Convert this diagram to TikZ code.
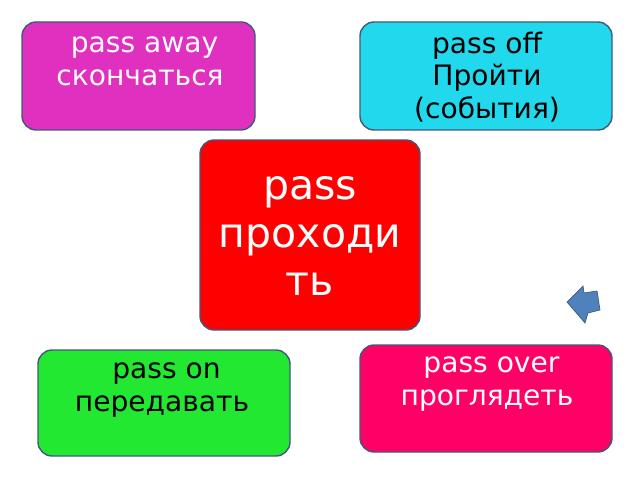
\documentclass[tikz,border=0pt]{standalone}
\usepackage{fontspec}
\setmainfont{DejaVu Sans}
\definecolor{edge}{HTML}{41597A}
\definecolor{cmag}{HTML}{E030C0}
\definecolor{ccyan}{HTML}{22D8EC}
\definecolor{cgreen}{HTML}{22E832}
\definecolor{cpink}{HTML}{FF0066}
\definecolor{cblue}{HTML}{4F81BD}
\begin{document}
\begin{tikzpicture}[x=0.03cm,y=-0.03cm]
\tikzset{card/.style={draw=edge,line width=1.2pt,rounded corners=12pt}}
\tikzstyle{every node}+=[inner sep=0pt,align=center,font=\fontsize{24}{28}\selectfont]
\useasboundingbox (0,0) rectangle (640,480);
\draw [card,fill=cmag] (22,22) rectangle (255,130);
\node [text=white] (away) at (140,61) {\ pass away\\скончаться};
\draw [card,fill=ccyan] (360,22) rectangle (612,130);
\node (off) at (487,77) {pass off\\Пройти\\(события)};
\draw [card,fill=red] (200,140) rectangle (420,330);
\node [text=white,font=\fontsize{35}{41}\selectfont] (pass) at (310,236) {pass\\ проходи\\ть};
\draw [card,fill=cgreen] (38,350) rectangle (290,456);
\node (on) at (162,390) {\ pass on\\передавать};
\draw [card,fill=cpink] (360,345) rectangle (612,452);
\node [text=white] (over) at (487,384) {\ pass over\\проглядеть};
\filldraw [fill=cblue,draw=edge,line width=0.6pt] (567,302) -- (583,286) -- (584,293) -- (597,291)
  -- (600,310) -- (588,313) -- (585,323) -- cycle;
\end{tikzpicture}
\end{document}
